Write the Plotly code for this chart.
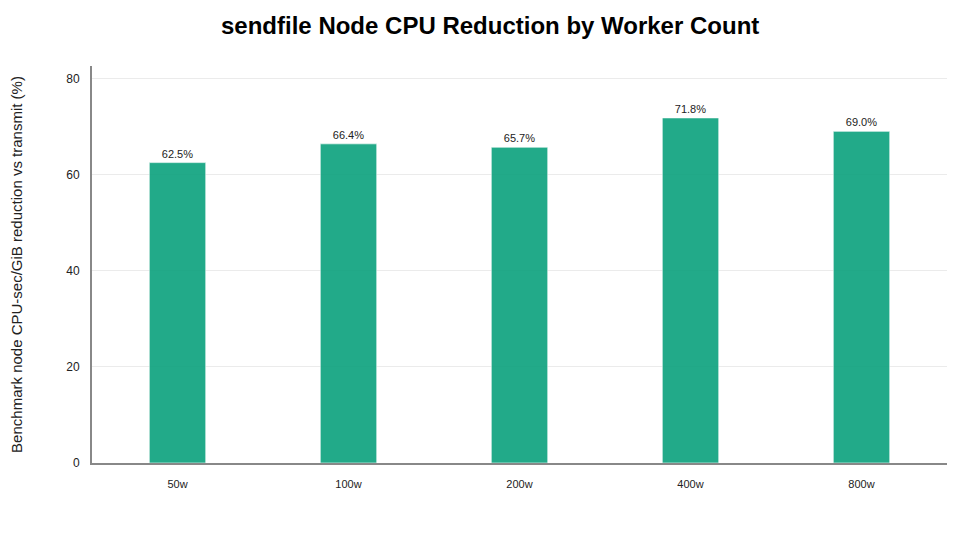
import plotly.graph_objects as go

workers = ["50w", "100w", "200w", "400w", "800w"]
reduction_pct = [62.5, 66.4, 65.7, 71.8, 69.0]
labels = [f"{v:.1f}%" for v in reduction_pct]

fig = go.Figure()
fig.add_trace(go.Bar(
    x=workers, y=reduction_pct,
    text=labels, textposition="outside",
    textfont=dict(size=11, color="#222"),
    marker=dict(color="#10a37f", opacity=0.92,
                line=dict(color="rgba(255,255,255,0.6)", width=1)),
    width=0.33,
    cliponaxis=False,
))

fig.update_layout(
    width=980, height=560,
    title=dict(text="<b>sendfile Node CPU Reduction by Worker Count</b>",
               x=0.492, xanchor="center", y=0.968, yanchor="middle",
               font=dict(size=24, color="black")),
    font=dict(family="Liberation Sans, Arial, sans-serif", size=12, color="#222"),
    plot_bgcolor="white", paper_bgcolor="white",
    margin=dict(l=84, r=41, t=58, b=105),
    showlegend=False,
)
fig.update_xaxes(showline=True, linecolor="#888", linewidth=2, automargin=False,
                 showgrid=False, ticks="", tickfont=dict(size=11),
                 ticklabelstandoff=10)
fig.update_yaxes(range=[0, 82.6], dtick=20, showline=True, linecolor="#888",
                 linewidth=2, showgrid=True, gridcolor="#ebebeb", zeroline=False,
                 ticks="", tickfont=dict(size=12), ticklabelstandoff=8,
                 automargin=False,
                 title=dict(text="Benchmark node CPU-sec/GiB reduction vs transmit (%)",
                            font=dict(size=15), standoff=40))

fig.write_html("out.html")
